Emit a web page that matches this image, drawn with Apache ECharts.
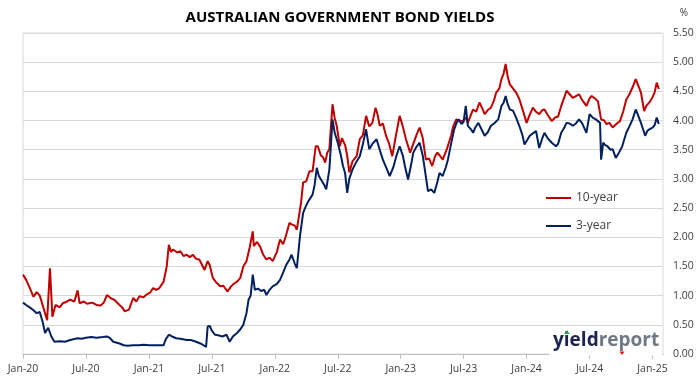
<!DOCTYPE html>
<html>
<head>
<meta charset="utf-8">
<script src="https://cdn.jsdelivr.net/npm/echarts@6/dist/echarts.min.js"></script>
<style>
html,body{margin:0;padding:0;background:#fff;}
#chart{width:699px;height:385px;}
</style>
</head>
<body>
<div id="chart"></div>
<script>
// x values are months since Jan-2020
var tickLabels = ['Jan-20','Jul-20','Jan-21','Jul-21','Jan-22','Jul-22','Jan-23','Jul-23','Jan-24','Jul-24','Jan-25'];
var seriesNames = ['10-year','3-year'];

var t10 = [0,0.3,0.6,1.0,1.3,1.6,2.1,2.3,2.57,2.8,3.1,3.5,3.8,4.2,4.5,4.9,5.2,5.4,5.8,6.1,6.6,7.0,7.4,7.7,8.0,8.4,8.7,9.2,9.5,9.7,10.1,10.5,10.8,11.1,11.5,11.7,12.1,12.4,12.7,13.0,13.4,13.7,13.9,14.1,14.3,14.7,15.0,15.3,15.6,15.9,16.2,16.5,16.8,17.0,17.3,17.6,17.8,18.1,18.4,18.8,19.1,19.5,19.8,20.0,20.4,20.7,21.0,21.3,21.6,21.9,22.0,22.3,22.6,22.9,23.2,23.5,23.8,24.2,24.5,24.8,25.1,25.4,25.6,25.9,26.1,26.5,26.7,27.0,27.3,27.6,27.9,28.1,28.4,28.6,28.8,29.0,29.2,29.5,29.7,29.9,30.2,30.4,30.7,30.9,31.1,31.4,31.8,32.1,32.4,32.7,33.0,33.3,33.6,33.8,34.0,34.3,34.6,34.9,35.2,35.5,35.9,36.2,36.5,36.9,37.2,37.5,37.8,38.1,38.4,38.7,39.0,39.3,39.5,39.8,40.0,40.4,40.8,41.0,41.3,41.6,41.9,42.2,42.4,42.7,42.9,43.2,43.5,43.8,44.0,44.3,44.6,44.9,45.1,45.4,45.6,45.8,46.0,46.2,46.4,46.7,47.0,47.3,47.6,48.0,48.3,48.6,48.9,49.2,49.5,49.7,50.0,50.4,50.7,51.0,51.3,51.6,51.8,52.1,52.4,52.7,53.0,53.3,53.7,54.0,54.2,54.5,54.8,55.1,55.4,55.6,55.9,56.2,56.6,56.9,57.2,57.5,57.8,58.1,58.4,58.6,58.9,59.2,59.4,59.7,60.0,60.2,60.4,60.6];
var v10 = [1.36,1.27,1.15,0.98,1.06,1.00,0.70,0.58,1.47,0.64,0.84,0.80,0.87,0.90,0.93,0.90,1.09,0.87,0.90,0.86,0.88,0.84,0.83,0.88,1.01,0.95,0.93,0.84,0.79,0.73,0.76,0.96,0.90,0.99,0.97,1.01,1.05,1.13,1.10,1.13,1.24,1.50,1.87,1.75,1.79,1.74,1.76,1.68,1.70,1.66,1.70,1.63,1.62,1.55,1.44,1.59,1.52,1.30,1.23,1.16,1.17,1.07,1.15,1.19,1.24,1.30,1.50,1.59,1.82,2.10,1.85,1.92,1.84,1.70,1.62,1.65,1.59,1.75,1.96,1.88,2.05,2.25,2.22,2.20,2.13,2.59,2.94,2.96,3.13,3.13,3.56,3.56,3.40,3.37,3.28,3.45,3.51,4.28,4.05,3.91,3.56,3.70,3.58,3.40,3.11,3.30,3.39,3.68,3.75,4.08,3.90,3.96,4.22,4.10,3.91,3.95,3.74,3.60,3.39,3.70,4.08,3.90,3.68,3.45,3.60,3.75,3.88,3.70,3.33,3.35,3.22,3.40,3.45,3.38,3.33,3.51,3.74,3.90,4.02,4.00,3.99,4.05,3.96,4.10,4.19,4.15,4.31,4.20,4.11,4.18,4.22,4.35,4.48,4.55,4.71,4.80,4.97,4.75,4.62,4.55,4.48,4.37,4.20,3.96,4.10,4.22,4.15,4.11,4.18,4.19,4.10,3.99,4.05,4.07,4.25,4.40,4.51,4.45,4.39,4.42,4.45,4.35,4.25,4.38,4.42,4.38,4.33,4.02,4.00,3.94,3.96,3.88,3.95,3.99,4.15,4.36,4.45,4.57,4.71,4.62,4.48,4.16,4.25,4.31,4.40,4.48,4.65,4.54];

var t3 = [0,0.3,0.7,1.0,1.3,1.6,1.9,2.1,2.4,2.7,3.0,3.5,4.0,4.5,5.0,5.2,5.6,6.0,6.5,7.0,7.6,8.0,8.3,8.6,9.2,9.6,10.0,10.5,11.0,11.5,12.0,12.5,13.0,13.4,13.6,13.9,14.2,14.6,15.0,15.6,16.0,16.5,16.9,17.2,17.45,17.6,17.8,18.0,18.3,18.6,19.0,19.4,19.7,20.0,20.4,20.7,21.0,21.3,21.5,21.7,21.9,22.1,22.4,22.7,23.0,23.2,23.5,23.8,24.2,24.5,24.8,25.1,25.4,25.6,25.9,26.1,26.4,26.7,27.0,27.2,27.6,27.8,28.0,28.2,28.4,28.7,28.9,29.2,29.5,29.7,30.0,30.3,30.5,30.7,30.9,31.1,31.4,31.8,32.1,32.4,32.7,33.0,33.3,33.7,34.0,34.3,34.6,34.95,35.3,35.6,35.9,36.2,36.4,36.7,37.0,37.2,37.5,37.8,38.1,38.3,38.6,38.9,39.2,39.5,39.7,40.0,40.3,40.5,40.8,41.1,41.3,41.5,41.8,42.0,42.2,42.4,42.7,42.9,43.1,43.4,43.7,44.0,44.3,44.6,44.9,45.3,45.6,45.8,46.0,46.2,46.4,46.7,47.0,47.3,47.6,47.8,48.0,48.3,48.6,48.9,49.2,49.5,49.7,50.0,50.4,50.8,51.0,51.3,51.6,51.8,52.1,52.4,52.7,53.0,53.3,53.7,54.0,54.3,54.6,55.0,55.1,55.3,55.5,55.7,56.0,56.2,56.5,56.8,57.1,57.5,57.8,58.1,58.4,58.6,58.9,59.1,59.3,59.5,59.7,60.0,60.2,60.4,60.6];
var v3 = [0.88,0.84,0.79,0.75,0.70,0.72,0.53,0.36,0.45,0.30,0.21,0.22,0.21,0.24,0.26,0.27,0.26,0.28,0.29,0.28,0.29,0.30,0.27,0.21,0.18,0.15,0.14,0.15,0.15,0.16,0.15,0.15,0.15,0.15,0.25,0.33,0.30,0.27,0.26,0.24,0.24,0.21,0.18,0.15,0.12,0.47,0.48,0.40,0.33,0.32,0.30,0.33,0.21,0.30,0.36,0.42,0.50,0.70,0.93,1.00,1.36,1.10,1.12,1.08,1.10,1.01,1.10,1.16,1.20,1.27,1.40,1.53,1.62,1.70,1.55,1.47,2.02,2.42,2.55,2.62,2.73,2.90,3.19,3.05,2.99,2.90,2.82,3.16,4.02,3.80,3.62,3.40,3.22,3.10,2.76,3.00,3.16,3.30,3.39,3.60,3.85,3.51,3.60,3.68,3.50,3.33,3.20,3.05,3.20,3.40,3.56,3.40,3.22,2.99,3.25,3.45,3.55,3.62,3.40,3.16,2.79,2.82,2.76,2.95,3.10,3.05,3.20,3.33,3.60,3.85,3.95,4.02,3.94,3.98,4.25,3.91,3.85,3.79,3.88,3.96,3.85,3.74,3.80,3.91,3.95,4.02,4.25,4.30,4.42,4.28,4.19,4.17,4.05,3.91,3.75,3.59,3.65,3.74,3.78,3.82,3.53,3.70,3.79,3.70,3.62,3.56,3.60,3.79,3.88,3.96,3.95,3.91,3.95,4.02,3.95,3.79,4.11,4.05,4.02,3.96,3.33,3.62,3.58,3.56,3.50,3.51,3.36,3.45,3.55,3.79,3.90,4.02,4.19,4.10,3.96,3.85,3.74,3.82,3.85,3.88,3.92,4.05,3.94];

function zip(t, v){ return t.map(function(x,i){ return [x, v[i]]; }); }

var FONT = 'Open Sans';
var TXT = '#404040';
var chart = echarts.init(document.getElementById('chart'), null, {renderer:'canvas'});
chart.setOption({
  animation:false,
  backgroundColor:'#fff',
  grid:{left:23, right:36, top:33, bottom:31, show:true, borderColor:'#D9D9D9', borderWidth:1},
  legend:{
    orient:'vertical', left:541, top:187, itemWidth:25, itemHeight:2, itemGap:16, icon:'rect',
    data: seriesNames,
    textStyle:{fontFamily:FONT, fontSize:12, color:TXT}
  },
  xAxis:{
    type:'value', min:0, max:61, interval:6,
    axisLine:{show:true, lineStyle:{color:'#BFBFBF', width:1}},
    axisTick:{show:true, length:5, lineStyle:{color:'#BFBFBF'}},
    splitLine:{show:false},
    axisLabel:{
      fontFamily:FONT, fontSize:10.5, color:TXT, margin:10, showMaxLabel:false,
      formatter:function(v){ return (v % 6 === 0) ? (tickLabels[v/6] || '') : ''; }
    }
  },
  yAxis:{
    type:'value', position:'right', min:0, max:5.5, interval:0.5,
    axisLine:{show:false}, axisTick:{show:false},
    splitLine:{lineStyle:{color:'#D9D9D9', width:1}},
    axisLabel:{fontFamily:FONT, fontSize:10.5, color:TXT, margin:10, formatter:function(v){return v.toFixed(2);}}
  },
  series:[
    {name:seriesNames[0], type:'line', data:zip(t10,v10), showSymbol:false, symbol:'none', color:'#C00000', lineStyle:{width:2, color:'#C00000'}, z:3},
    {name:seriesNames[1], type:'line', data:zip(t3,v3), showSymbol:false, symbol:'none', color:'#002060', lineStyle:{width:2, color:'#002060'}, z:4}
  ],
  graphic:[
    {type:'text', style:{text:'AUSTRALIAN GOVERNMENT BOND YIELDS', x:340, y:18, align:'center', verticalAlign:'middle', font:'bold 15px "Open Sans"', fill:'#000'}, z:10},
    {type:'text', style:{text:'%', x:684, y:13, align:'center', verticalAlign:'middle', font:'10px "Open Sans"', fill:TXT}, z:10},
    {type:'rect', shape:{x:549, y:327, width:113, height:28.5}, style:{fill:'#fff'}, z:50},
    {type:'text', style:{x:553, y:341, verticalAlign:'middle', text:'{a|yield}{b|report}',
      rich:{a:{font:'bold 19px "Open Sans"', fill:'#1B2350'}, b:{font:'bold 19px "Open Sans"', fill:'#6E7985'}}}, z:51},
    {type:'polygon', shape:{points:[[564.5,334],[569.5,334],[567,330]]}, style:{fill:'#1E9E4A'}, z:52},
    {type:'polygon', shape:{points:[[619.5,351.5],[624.5,351.5],[622,355]]}, style:{fill:'#E01010'}, z:52}
  ]
});
</script>
</body>
</html>
